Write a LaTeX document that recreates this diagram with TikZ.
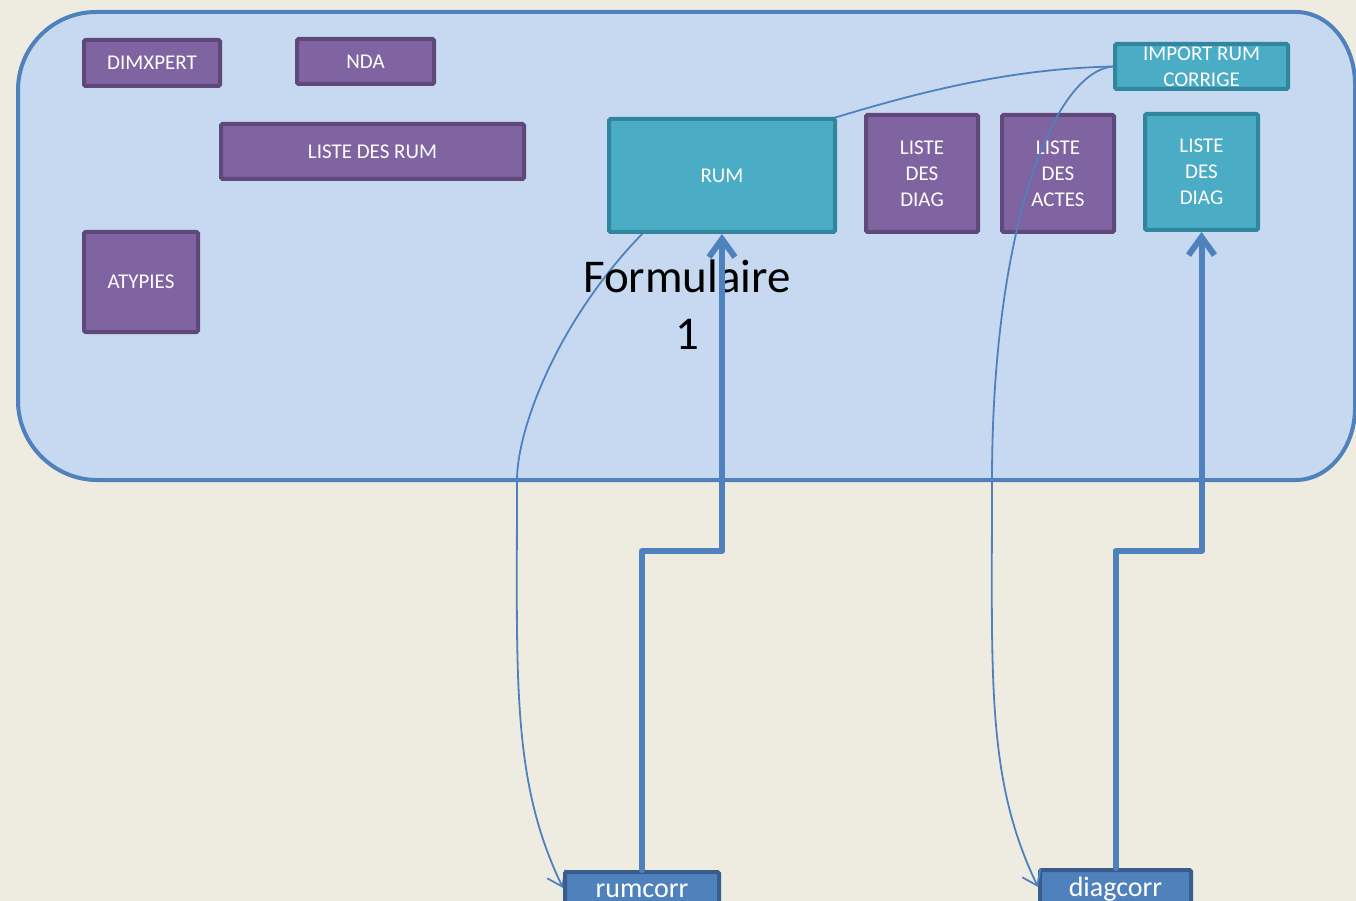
\documentclass[tikz,border=0pt]{standalone}
\usepackage{fontspec}
\setmainfont{Carlito}
\usepackage{tikz}
\usetikzlibrary{arrows.meta}
\usepackage{xcolor}

\definecolor{bgbeige}{HTML}{EEECE1}
\definecolor{panelfill}{HTML}{C6D9F1}
\definecolor{panelline}{HTML}{4F81BD}
\definecolor{purplefill}{HTML}{8064A2}
\definecolor{purpleline}{HTML}{5F497A}
\definecolor{tealfill}{HTML}{4BACC6}
\definecolor{tealline}{HTML}{31859C}
\definecolor{corrfill}{HTML}{4F81BD}
\definecolor{corrline}{HTML}{385D8A}

\pgfdeclarelayer{back}
\pgfsetlayers{back,main}

\tikzset{
  box/.style={line width=4pt, rounded corners=1.5pt, text=white, align=center, inner sep=0pt, font=\fontsize{21}{26}\selectfont},
  purplebox/.style={box, draw=purpleline, fill=purplefill},
  tealbox/.style={box, draw=tealline, fill=tealfill},
  corrbox/.style={box, draw=corrline, fill=corrfill, font=\fontsize{28}{30}\selectfont, text height=18pt, text depth=0pt},
  thinlink/.style={draw=panelline, line width=1.8pt, -{Straight Barb[length=14pt,width=20pt]}},
  thicklink/.style={draw=panelline, line width=6pt, line join=round, -{Straight Barb[length=18pt,width=26pt]}}
}

\begin{document}
\begin{tikzpicture}[x=1pt, y=-1pt, line cap=round]
        \useasboundingbox (0,0) rectangle (1356,901);

        % left group
        \node[purplebox, minimum width=136pt, minimum height=46pt] (dimxpert) at (152,63) {DIMXPERT};
        \node[purplebox, minimum width=137pt, minimum height=45pt] (nda) at (365.5,61.5) {NDA};
        \node[purplebox, minimum width=303pt, minimum height=55pt] (listerum) at (372.5,151.5) {LISTE DES RUM};
        \node[purplebox, minimum width=114pt, minimum height=100pt] (atypies) at (141,282) {ATYPIES};

        % right group
        \node[tealbox, minimum width=226pt, minimum height=113pt] (rum) at (722,175.5) {RUM};
        \node[purplebox, minimum width=112pt, minimum height=117pt] (diag) at (922,173.5) {LISTE\\DES\\DIAG};
        \node[purplebox, minimum width=112pt, minimum height=117pt] (actes) at (1058,173.5) {LISTE\\DES\\ACTES};
        \node[tealbox, minimum width=113pt, minimum height=116pt] (diagbis) at (1201.5,172) {LISTE\\DES\\DIAG};
        \node[tealbox, minimum width=173pt, minimum height=45pt] (import) at (1201.5,66.5) {IMPORT RUM\\CORRIGE};

        % form title
        \node[font=\fontsize{47}{57}\selectfont, align=center, inner sep=0pt] (form) at (687,305) {Formulaire\\1};

        % corrected tables
        \node[corrbox, minimum width=154pt, minimum height=32pt] (rumcorr) at (642,888) {rumcorr};
        \node[corrbox, minimum width=151pt, minimum height=34pt] (diagcorr) at (1115.5,887) {diagcorr};

        \coordinate (rumdip) at (517,480);
        \coordinate (diagdip) at (992,480);
        \coordinate (bend) at (0,551);

        % imports
        \draw[thicklink] (rumcorr.north) |- (bend -| rum.south) -- (rum.south);
        \draw[thicklink] (diagcorr.north) |- (bend -| diagbis.south) -- (diagbis.south);
        \draw[thinlink] (import.west) .. controls +(-60,5) and +(0,-250) .. (diagdip)
            .. controls +(0,200) and +(-52,-108) .. (diagcorr.west);

        \begin{pgfonlayer}{back}
        \fill[bgbeige] (0,0) rectangle (1356,901);
        % frame
        \filldraw[fill=panelfill, draw=panelline, line width=4pt]
            (96,12) -- (1296,12) .. controls +(32.6,0) and +(0,-39.8) .. (1355,84)
            -- (1355,408) .. controls +(0,39.8) and +(32.6,0) .. (1296,480)
            -- (97,480) .. controls +(-43,0) and +(0,43) .. (18,401)
            -- (18,90) .. controls +(0,-43) and +(-43,0) .. (96,12) -- cycle;
        \draw[thinlink] (import.west) .. controls +(-100,2) and +(86,-26) .. (rum.north east)
            .. controls +(-220,60) and +(0,-80) .. (rumdip)
            .. controls +(0,200) and +(-52,-108) .. (rumcorr.west);
        \end{pgfonlayer}
\end{tikzpicture}
\end{document}
